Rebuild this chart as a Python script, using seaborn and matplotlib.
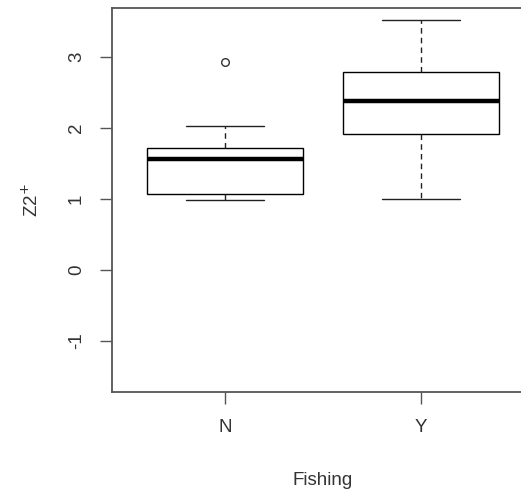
import matplotlib
matplotlib.use("Agg")
import matplotlib.pyplot as plt
import seaborn as sns
import pandas as pd

# Observations of Z2+ by fishing status
fishing_n = [0.98, 1.02, 1.07, 1.30, 1.56, 1.65, 1.72, 2.03, 2.93]
fishing_y = [1.00, 1.91, 2.38, 2.79, 3.52]
groups = ["N", "Y"]
y_ticks = [-1, 0, 1, 2, 3]

df = pd.DataFrame({
    "Fishing": [groups[0]] * len(fishing_n) + [groups[1]] * len(fishing_y),
    "Z2": fishing_n + fishing_y,
})

sns.set_style("white")
plt.rcParams["font.family"] = ["Liberation Sans", "DejaVu Sans"]

fig = plt.figure(figsize=(5.21, 4.93), dpi=100)
ax = fig.add_axes([112 / 521, 101 / 493, 422 / 521, 384 / 493])

frame = "#555555"
sns.boxplot(
    data=df, x="Fishing", y="Z2", order=groups, ax=ax,
    color="white", linecolor="black", linewidth=1.0, width=0.8, whis=1.5,
    saturation=1,
    medianprops={"color": "black", "linewidth": 3.2},
    whiskerprops={"linestyle": (0, (4, 3)), "linewidth": 1.0, "color": "#222222"},
    capprops={"linewidth": 1.0, "color": "#222222"},
    flierprops={"marker": "o", "markerfacecolor": "none",
                "markeredgecolor": "#333333", "markersize": 5.5,
                "markeredgewidth": 1.0},
)

ax.set_xlim(-0.58, 1.58)
ax.set_ylim(-1.72, 3.69)
ax.set_yticks(y_ticks)
ax.set_yticklabels([str(t) for t in y_ticks], rotation=90, va="center")

for name, sp in ax.spines.items():
    sp.set_visible(True)
    sp.set_color(frame)
    sp.set_linewidth(1.3)
    sp.set_zorder(5)

ax.tick_params(axis="both", direction="out", length=8.5, width=1.0,
               color=frame, labelcolor="#333333", labelsize=13.5, pad=11,
               left=True, bottom=True)

ax.set_xlabel("Fishing", fontsize=13.5, color="#333333", labelpad=26)
ax.set_ylabel("Z2$^{+}$", fontsize=13.5, color="#333333", labelpad=19)

fig.savefig("out.png", dpi=100)
